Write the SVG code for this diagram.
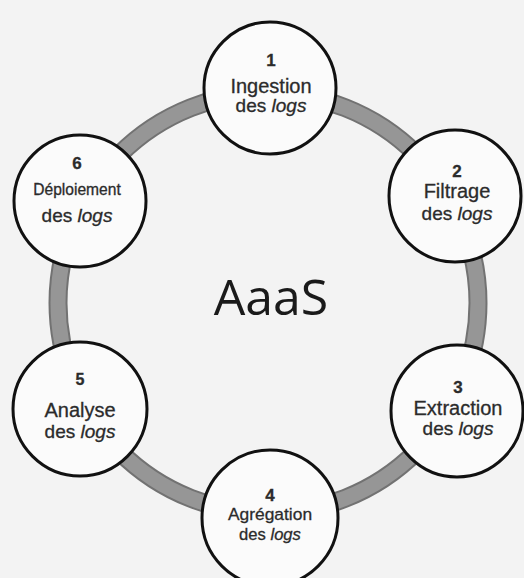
<svg xmlns="http://www.w3.org/2000/svg" width="524" height="578" viewBox="0 0 524 578">
  <style>
    .ring-edge { fill: none; stroke: #727272; stroke-width: 19; }
    .ring-fill { fill: none; stroke: #969696; stroke-width: 15; }
    .node circle { fill: #fbfbfb; stroke: #111; stroke-width: 3; }
    .node text { font-family: "Liberation Sans", Arial, sans-serif; fill: #2b2b2b; stroke: #2b2b2b; stroke-width: 0.3; text-anchor: middle; }
    .num { font-weight: bold; }
    .it { font-style: italic; }
    .title { font-family: "Open Sans", "Liberation Sans", sans-serif; fill: #1a1a1a; text-anchor: middle; }
  </style>
  <rect width="524" height="578" fill="#f3f3f3"/>

  <!-- cycle ring linking the six steps -->
  <g id="connectors">
    <circle class="ring-edge" cx="268" cy="303" r="210"/>
    <circle class="ring-fill" cx="268" cy="303" r="210"/>
  </g>

  <text class="title" x="271" y="315" font-size="50">AaaS</text>

  <g id="node1" class="node">
    <circle cx="270" cy="88" r="66"/>
    <text class="num" x="271" y="66" font-size="17">1</text>
    <text x="271" y="93" font-size="20">Ingestion</text>
    <text x="271" y="112" font-size="19">des <tspan class="it">logs</tspan></text>
  </g>

  <g id="node2" class="node">
    <circle cx="455" cy="196" r="66"/>
    <text class="num" x="457" y="177" font-size="17">2</text>
    <text x="457" y="198" font-size="20">Filtrage</text>
    <text x="457" y="220" font-size="19">des <tspan class="it">logs</tspan></text>
  </g>

  <g id="node3" class="node">
    <circle cx="457" cy="411" r="66"/>
    <text class="num" x="458" y="393" font-size="17">3</text>
    <text x="458" y="415" font-size="20">Extraction</text>
    <text x="458" y="435" font-size="19">des <tspan class="it">logs</tspan></text>
  </g>

  <g id="node4" class="node">
    <circle cx="270" cy="518" r="68"/>
    <text class="num" x="270" y="501" font-size="17">4</text>
    <text x="270" y="520" font-size="17.4">Agrégation</text>
    <text x="270" y="540" font-size="16.6">des <tspan class="it">logs</tspan></text>
  </g>

  <g id="node5" class="node">
    <circle cx="80" cy="409" r="67"/>
    <text class="num" x="80" y="385" font-size="16">5</text>
    <text x="80" y="417" font-size="20">Analyse</text>
    <text x="80" y="438" font-size="19">des <tspan class="it">logs</tspan></text>
  </g>

  <g id="node6" class="node">
    <circle cx="80" cy="201" r="66"/>
    <text class="num" x="77" y="169" font-size="17">6</text>
    <text x="77" y="195" font-size="15.6">Déploiement</text>
    <text x="77" y="222" font-size="19">des <tspan class="it">logs</tspan></text>
  </g>
</svg>
